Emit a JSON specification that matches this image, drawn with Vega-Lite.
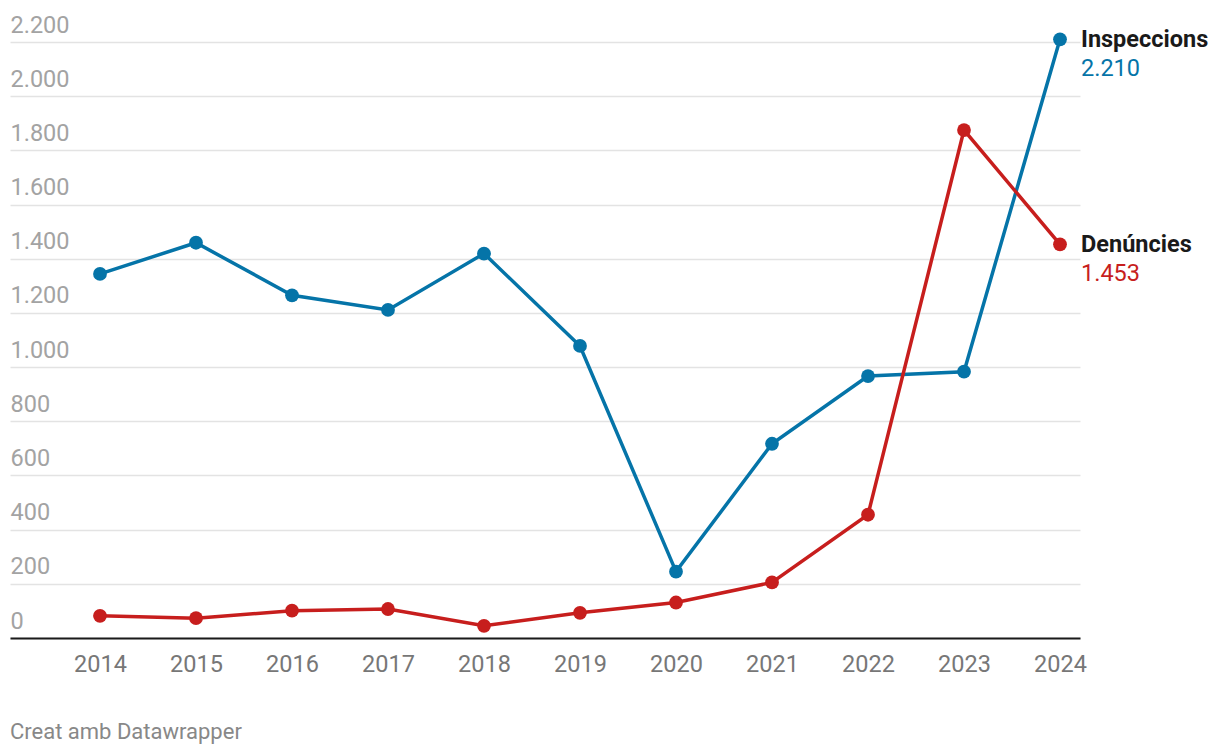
{
  "$schema": "https://vega.github.io/schema/vega-lite/v6.json",
  "autosize": "none",
  "width": 1070,
  "height": 596,
  "padding": {"left": 10, "top": 42, "right": 140, "bottom": 118},
  "background": "white",
  "config": {
    "locale": {"number": {"decimal": ",", "thousands": ".", "grouping": [3], "currency": ["", " €"]}},
    "font": "Roboto",
    "view": {"stroke": null}
  },
  "title": {
    "text": "Creat amb Datawrapper",
    "orient": "bottom",
    "anchor": "start",
    "frame": "group",
    "fontSize": 22,
    "fontWeight": "normal",
    "color": "#888888",
    "font": "Roboto",
    "offset": 46
  },
  "data": {
    "values": [
      {"year": 2014, "value": 1344, "series": "Inspeccions"},
      {"year": 2015, "value": 1459, "series": "Inspeccions"},
      {"year": 2016, "value": 1265, "series": "Inspeccions"},
      {"year": 2017, "value": 1211, "series": "Inspeccions"},
      {"year": 2018, "value": 1419, "series": "Inspeccions"},
      {"year": 2019, "value": 1078, "series": "Inspeccions"},
      {"year": 2020, "value": 245, "series": "Inspeccions"},
      {"year": 2021, "value": 717, "series": "Inspeccions"},
      {"year": 2022, "value": 967, "series": "Inspeccions"},
      {"year": 2023, "value": 983, "series": "Inspeccions"},
      {"year": 2024, "value": 2210, "series": "Inspeccions"},
      {"year": 2014, "value": 82, "series": "Denúncies"},
      {"year": 2015, "value": 73, "series": "Denúncies"},
      {"year": 2016, "value": 101, "series": "Denúncies"},
      {"year": 2017, "value": 107, "series": "Denúncies"},
      {"year": 2018, "value": 45, "series": "Denúncies"},
      {"year": 2019, "value": 93, "series": "Denúncies"},
      {"year": 2020, "value": 131, "series": "Denúncies"},
      {"year": 2021, "value": 205, "series": "Denúncies"},
      {"year": 2022, "value": 455, "series": "Denúncies"},
      {"year": 2023, "value": 1875, "series": "Denúncies"},
      {"year": 2024, "value": 1453, "series": "Denúncies"}
    ]
  },
  "encoding": {
    "x": {
      "field": "year",
      "type": "quantitative",
      "scale": {"domain": [2013.0625, 2024.2083], "nice": false, "zero": false},
      "axis": {
        "title": null,
        "values": [2014, 2015, 2016, 2017, 2018, 2019, 2020, 2021, 2022, 2023, 2024],
        "format": "d",
        "grid": false,
        "ticks": false,
        "domainColor": "#1a1a1a",
        "domainWidth": 2,
        "labelFontSize": 23.5,
        "labelColor": "#777777",
        "labelPadding": 14,
        "labelFont": "Roboto"
      }
    },
    "y": {
      "field": "value",
      "type": "quantitative",
      "scale": {"domain": [0, 2200], "nice": false},
      "axis": {
        "title": null,
        "values": [0, 200, 400, 600, 800, 1000, 1200, 1400, 1600, 1800, 2000, 2200],
        "format": ",d",
        "domain": false,
        "ticks": false,
        "gridColor": "#e3e3e3",
        "gridWidth": 1.5,
        "labelAlign": "left",
        "labelBaseline": "alphabetic",
        "labelPadding": 0,
        "labelOffset": -10,
        "labelFontSize": 23.5,
        "labelColor": "#a3a3a3",
        "labelFont": "Roboto"
      }
    },
    "color": {
      "field": "series",
      "type": "nominal",
      "scale": {"domain": ["Inspeccions", "Denúncies"], "range": ["#0574a8", "#c71e1d"]},
      "legend": null
    }
  },
  "layer": [
    {"mark": {"type": "line", "strokeWidth": 3.5}},
    {"mark": {"type": "point", "filled": true, "size": 190, "opacity": 1}},
    {
      "transform": [{"filter": "datum.year == 2024"}],
      "mark": {"type": "text", "align": "left", "baseline": "middle", "dx": 21, "dy": 1, "fontSize": 23.5, "fontWeight": "bold", "color": "#1a1a1a", "font": "Roboto"},
      "encoding": {"text": {"field": "series"}, "color": {"value": "#1a1a1a"}}
    },
    {
      "transform": [{"filter": "datum.year == 2024"}],
      "mark": {"type": "text", "align": "left", "baseline": "middle", "dx": 21, "dy": 30, "fontSize": 23.5, "font": "Roboto"},
      "encoding": {"text": {"field": "value", "type": "quantitative", "format": ",d"}}
    }
  ]
}
